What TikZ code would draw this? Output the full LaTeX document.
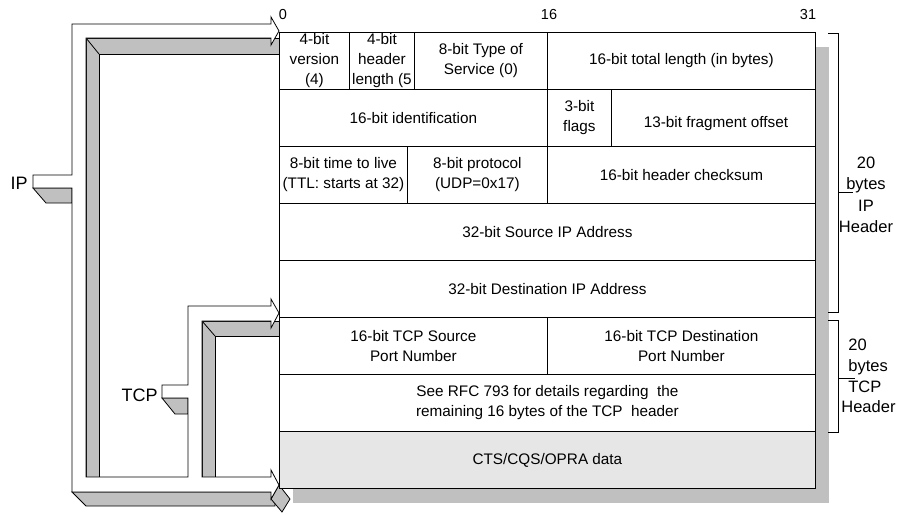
\documentclass[tikz,border=0pt]{standalone}
\usepackage{fontspec}
\setmainfont{Liberation Sans}
\definecolor{depthgray}{RGB}{192,192,192}
\definecolor{datafill}{RGB}{230,230,230}
\begin{document}
\begin{tikzpicture}[x=1pt,y=-1pt,line width=0.8pt,
  txt/.style={font=\fontsize{15.3}{20}\selectfont,align=center,inner sep=0pt},
  cell/.style={txt,draw=black,fill=white,anchor=north west,minimum height=57pt},
  depth/.style={fill=depthgray,draw=black,line join=miter},
  front/.style={fill=white,draw=black,line join=miter}]
\useasboundingbox (0,0) rectangle (899,514);
% table shadow
\fill[depthgray] (293,47) rectangle (829,503);
% arrow depth faces
\draw[depth] (86,38) -- (292,38) -- (292,54) -- (99,54) -- (99,477) -- (86,477) -- cycle;
\draw (86,38) -- (99,54);
\draw[depth] (202,321) -- (292,321) -- (292,336) -- (215,336) -- (215,477) -- (202,477) -- cycle;
\draw (202,321) -- (215,336);
\draw[depth] (33,188) -- (72,188) -- (72,203) -- (46,203) -- cycle;
\draw[depth] (162,398) -- (188,398) -- (188,414) -- (175,414) -- cycle;
\draw[depth] (72,492) -- (275,492) -- (275,506) -- (86,506) -- cycle;
\draw[depth] (279,485) -- (290,499) -- (282,512) -- (271,499) -- cycle;
% table
\node[cell,minimum width=70pt] (ver) at (279,32) {4-bit\\version\\(4)};
\node[cell,minimum width=65pt] (hlen) at (349,32) {4-bit\\header\\length (5};
\node[cell,minimum width=133pt] (tos) at (414,32) {8-bit Type of\\Service (0)};
\node[cell,minimum width=268pt] (tlen) at (547,32) {16-bit total length (in bytes)};
\node[cell,minimum width=268pt] (ident) at (279,89) {16-bit identification};
\node[cell,minimum width=64pt] (flags) at (547,89) {3-bit\\flags};
\node[cell,minimum width=204pt] (frag) at (611,89) {};
\node[txt] (fragt) at (716,124) {13-bit fragment offset};
\node[cell,minimum width=128pt] (ttl) at (279,146) {8-bit time to live\\(TTL: starts at 32)};
\node[cell,minimum width=140pt] (proto) at (407,146) {8-bit protocol\\(UDP=0x17)};
\node[cell,minimum width=268pt] (csum) at (547,146) {16-bit header checksum};
\node[cell,minimum width=536pt] (src) at (279,203) {32-bit Source IP Address};
\node[cell,minimum width=536pt] (dst) at (279,260) {32-bit Destination IP Address};
\node[cell,minimum width=268pt] (sport) at (279,317) {16-bit TCP Source\\Port Number};
\node[cell,minimum width=268pt] (dport) at (547,317) {16-bit TCP Destination\\Port Number};
\node[cell,minimum width=536pt] (rfc) at (279,374) {See RFC 793 for details regarding\ \ the\\remaining 16 bytes of the TCP\ \ header};
\node[cell,minimum width=536pt,fill=datafill] (data) at (279,431) {CTS/CQS/OPRA data};
% bit numbers
\node[txt,font=\fontsize{14.5}{18}\selectfont] (b0) at (283,15) {0};
\node[txt,font=\fontsize{14.5}{18}\selectfont] (b16) at (549,15) {16};
\node[txt,font=\fontsize{14.5}{18}\selectfont] (b31) at (808,15) {31};
% arrow front faces
\draw[front] (279,31) -- (271,17) -- (271,24) -- (72,24) -- (72,175) -- (33,175) -- (33,188)
  -- (72,188) -- (72,492) -- (271,492) -- (271,499) -- (279,485) -- (271,470) -- (271,477)
  -- (202,477) -- (202,321) -- (271,321) -- (271,328) -- (279,313) -- (271,299) -- (271,306)
  -- (188,306) -- (188,385) -- (162,385) -- (162,398) -- (188,398) -- (188,477) -- (86,477)
  -- (86,38) -- (271,38) -- (271,45) -- cycle;
\node[txt,anchor=east,font=\fontsize{18}{20}\selectfont] (iplbl) at (28,183) {IP};
\node[txt,anchor=east,font=\fontsize{18}{20}\selectfont] (tcplbl) at (158,395) {TCP};
% brackets
\draw (828,33) -- (838,33) -- (838,312) -- (828,312);
\draw (838,192) -- (853,192);
\draw (828,320) -- (838,320) -- (838,432) -- (828,432);
\draw (838,378) -- (855,378);
\node[txt,font=\fontsize{16.5}{21.5}\selectfont] (iphdr) at (866,195) {20\\bytes\\IP\\Header};
\node[txt,font=\fontsize{16.5}{20.7}\selectfont,align=left,anchor=west] (tcphdr) at (848,376) {20\\bytes\\TCP\\\hspace*{-7pt}Header};
\end{tikzpicture}
\end{document}
